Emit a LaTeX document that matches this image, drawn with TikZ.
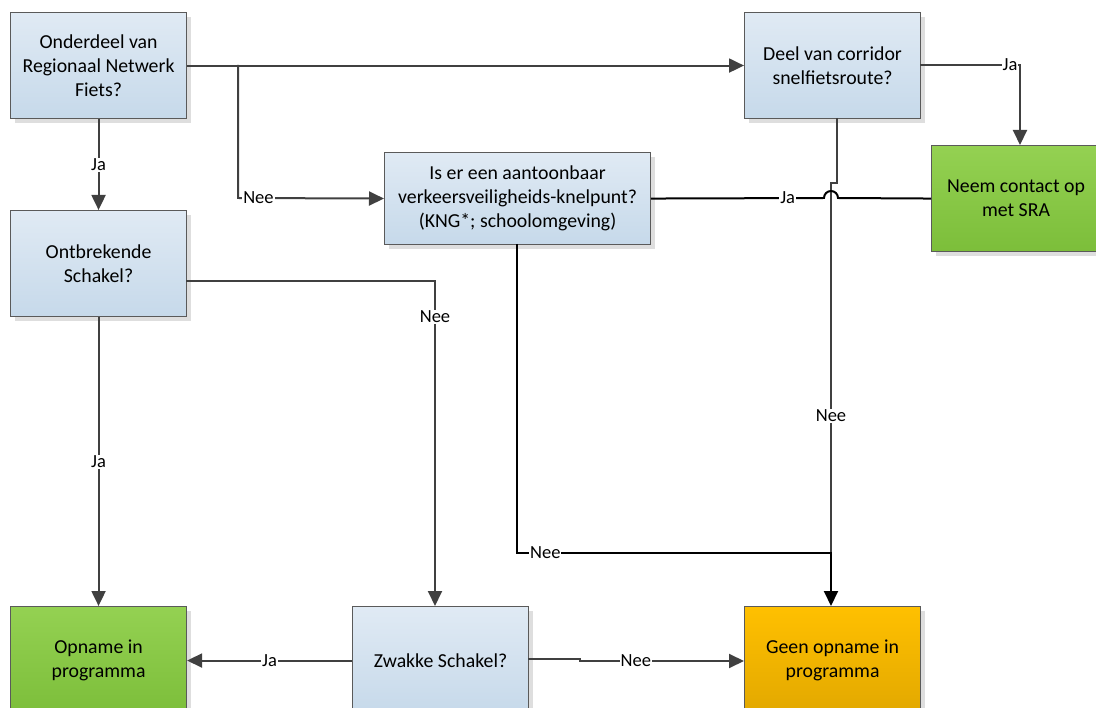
\documentclass[tikz,border=0pt]{standalone}
\usepackage{fontspec}
\setmainfont{Carlito}
\usetikzlibrary{arrows.meta,calc,shadows}
\definecolor{bluetop}{HTML}{E0EAF4}
\definecolor{bluebot}{HTML}{C6D9EA}
\definecolor{greentop}{HTML}{94D152}
\definecolor{greenbot}{HTML}{7CBE3A}
\definecolor{orangetop}{HTML}{FFC000}
\definecolor{orangebot}{HTML}{E2A800}
\definecolor{boxline}{HTML}{5A5A5A}
\definecolor{conn}{HTML}{404040}
\begin{document}
\begin{tikzpicture}[x=1pt,y=-1pt,
  basebox/.style={draw=boxline, line width=1.1pt, anchor=north west, align=center,
    inner sep=0pt, font=\fontsize{19.8}{24}\selectfont,
    drop shadow={shadow xshift=4pt, shadow yshift=-4pt, fill=black!13, opacity=1}},
  qbox/.style={basebox, top color=bluetop, bottom color=bluebot},
  gbox/.style={basebox, top color=greentop, bottom color=greenbot},
  obox/.style={basebox, top color=orangetop, bottom color=orangebot},
  gl/.style={draw=conn, line width=2pt},
  bl/.style={draw=black, line width=2pt},
  arr/.style={-{Triangle[length=15pt,width=14pt]}},
  lbl/.style={fill=white, inner sep=1pt, font=\fontsize{18.5}{20}\selectfont, text=black}
]
\useasboundingbox (0,0) rectangle (1096,708);
\clip (0,0) rectangle (1096,708);

\node[qbox, minimum width=176pt, minimum height=106pt] (n1) at (10,12) {Onderdeel van\\Regionaal Netwerk\\Fiets?};
\node[qbox, minimum width=176pt, minimum height=106pt] (n2) at (744,12) {Deel van corridor\\snelfietsroute?};
\node[qbox, minimum width=266pt, minimum height=92pt] (n3) at (384,152) {Is er een aantoonbaar\\verkeersveiligheids-knelpunt?\\(KNG*; schoolomgeving)};
\node[gbox, minimum width=169pt, minimum height=106pt] (n4) at (931,145) {Neem contact op\\met SRA};
\node[qbox, minimum width=176pt, minimum height=106pt] (n5) at (10,210) {Ontbrekende\\Schakel?};
\node[gbox, minimum width=176pt, minimum height=108pt] (n6) at (10,606) {Opname in\\programma};
\node[qbox, minimum width=176pt, minimum height=108pt] (n7) at (352,606) {Zwakke Schakel?};
\node[obox, minimum width=176pt, minimum height=108pt] (n8) at (744,606) {Geen opname in\\programma};

% coordinates
\coordinate (j1) at (238,65);
\coordinate (c2a) at (920,65);
\coordinate (c4in) at (1020,145);
\coordinate (c2s) at (837,118);
\coordinate (c2b) at (837,183);
\coordinate (c2c) at (831,183);
\coordinate (jn) at (831,553);
\coordinate (c3s) at (517,244);
\coordinate (c3b) at (517,553);
\coordinate (h1) at (824,198);
\coordinate (c5e) at (186,281);
\coordinate (c5b) at (435,281);
\coordinate (c7in) at (435,606);
\coordinate (c7e) at (528,659);
\coordinate (s1) at (580,659);
\coordinate (s2) at (580,661);
\coordinate (c8in) at (744,661);

% connectors
\draw[gl,arr] (n1.east) -- (n2.west);
\draw[gl,arr] (j1) -- (238,198) -- node[lbl,pos=0.14]{Nee} (n3.west);
\draw[gl,arr] (n1.south) -- node[lbl]{Ja} (n5.north);
\draw[gl,arr] (c2a) -| node[lbl,pos=0.45]{Ja} (c4in);
\draw[gl] (c2s) -- (c2b) -- (c2c) -- node[lbl,pos=0.63]{Nee} (jn);
\draw[bl] (n3.east) -- node[lbl,pos=0.79]{Ja} (h1) arc (180:360:7) -- (n4.west);
\draw[bl,arr] (c3s) -- (c3b) -- node[lbl,pos=0.09]{Nee} (jn) -- (n8.north -| jn);
\draw[gl,arr] (c5e) -- (c5b) -- node[lbl,pos=0.11]{Nee} (c7in);
\draw[gl,arr] (n5.south) -- node[lbl]{Ja} (n6.north);
\draw[gl,arr] (n7.west) -- node[lbl]{Ja} (n6.east);
\draw[gl,arr] (c7e) -- (s1) -- (s2) -- node[lbl,pos=0.34]{Nee} (c8in);
\end{tikzpicture}
\end{document}
